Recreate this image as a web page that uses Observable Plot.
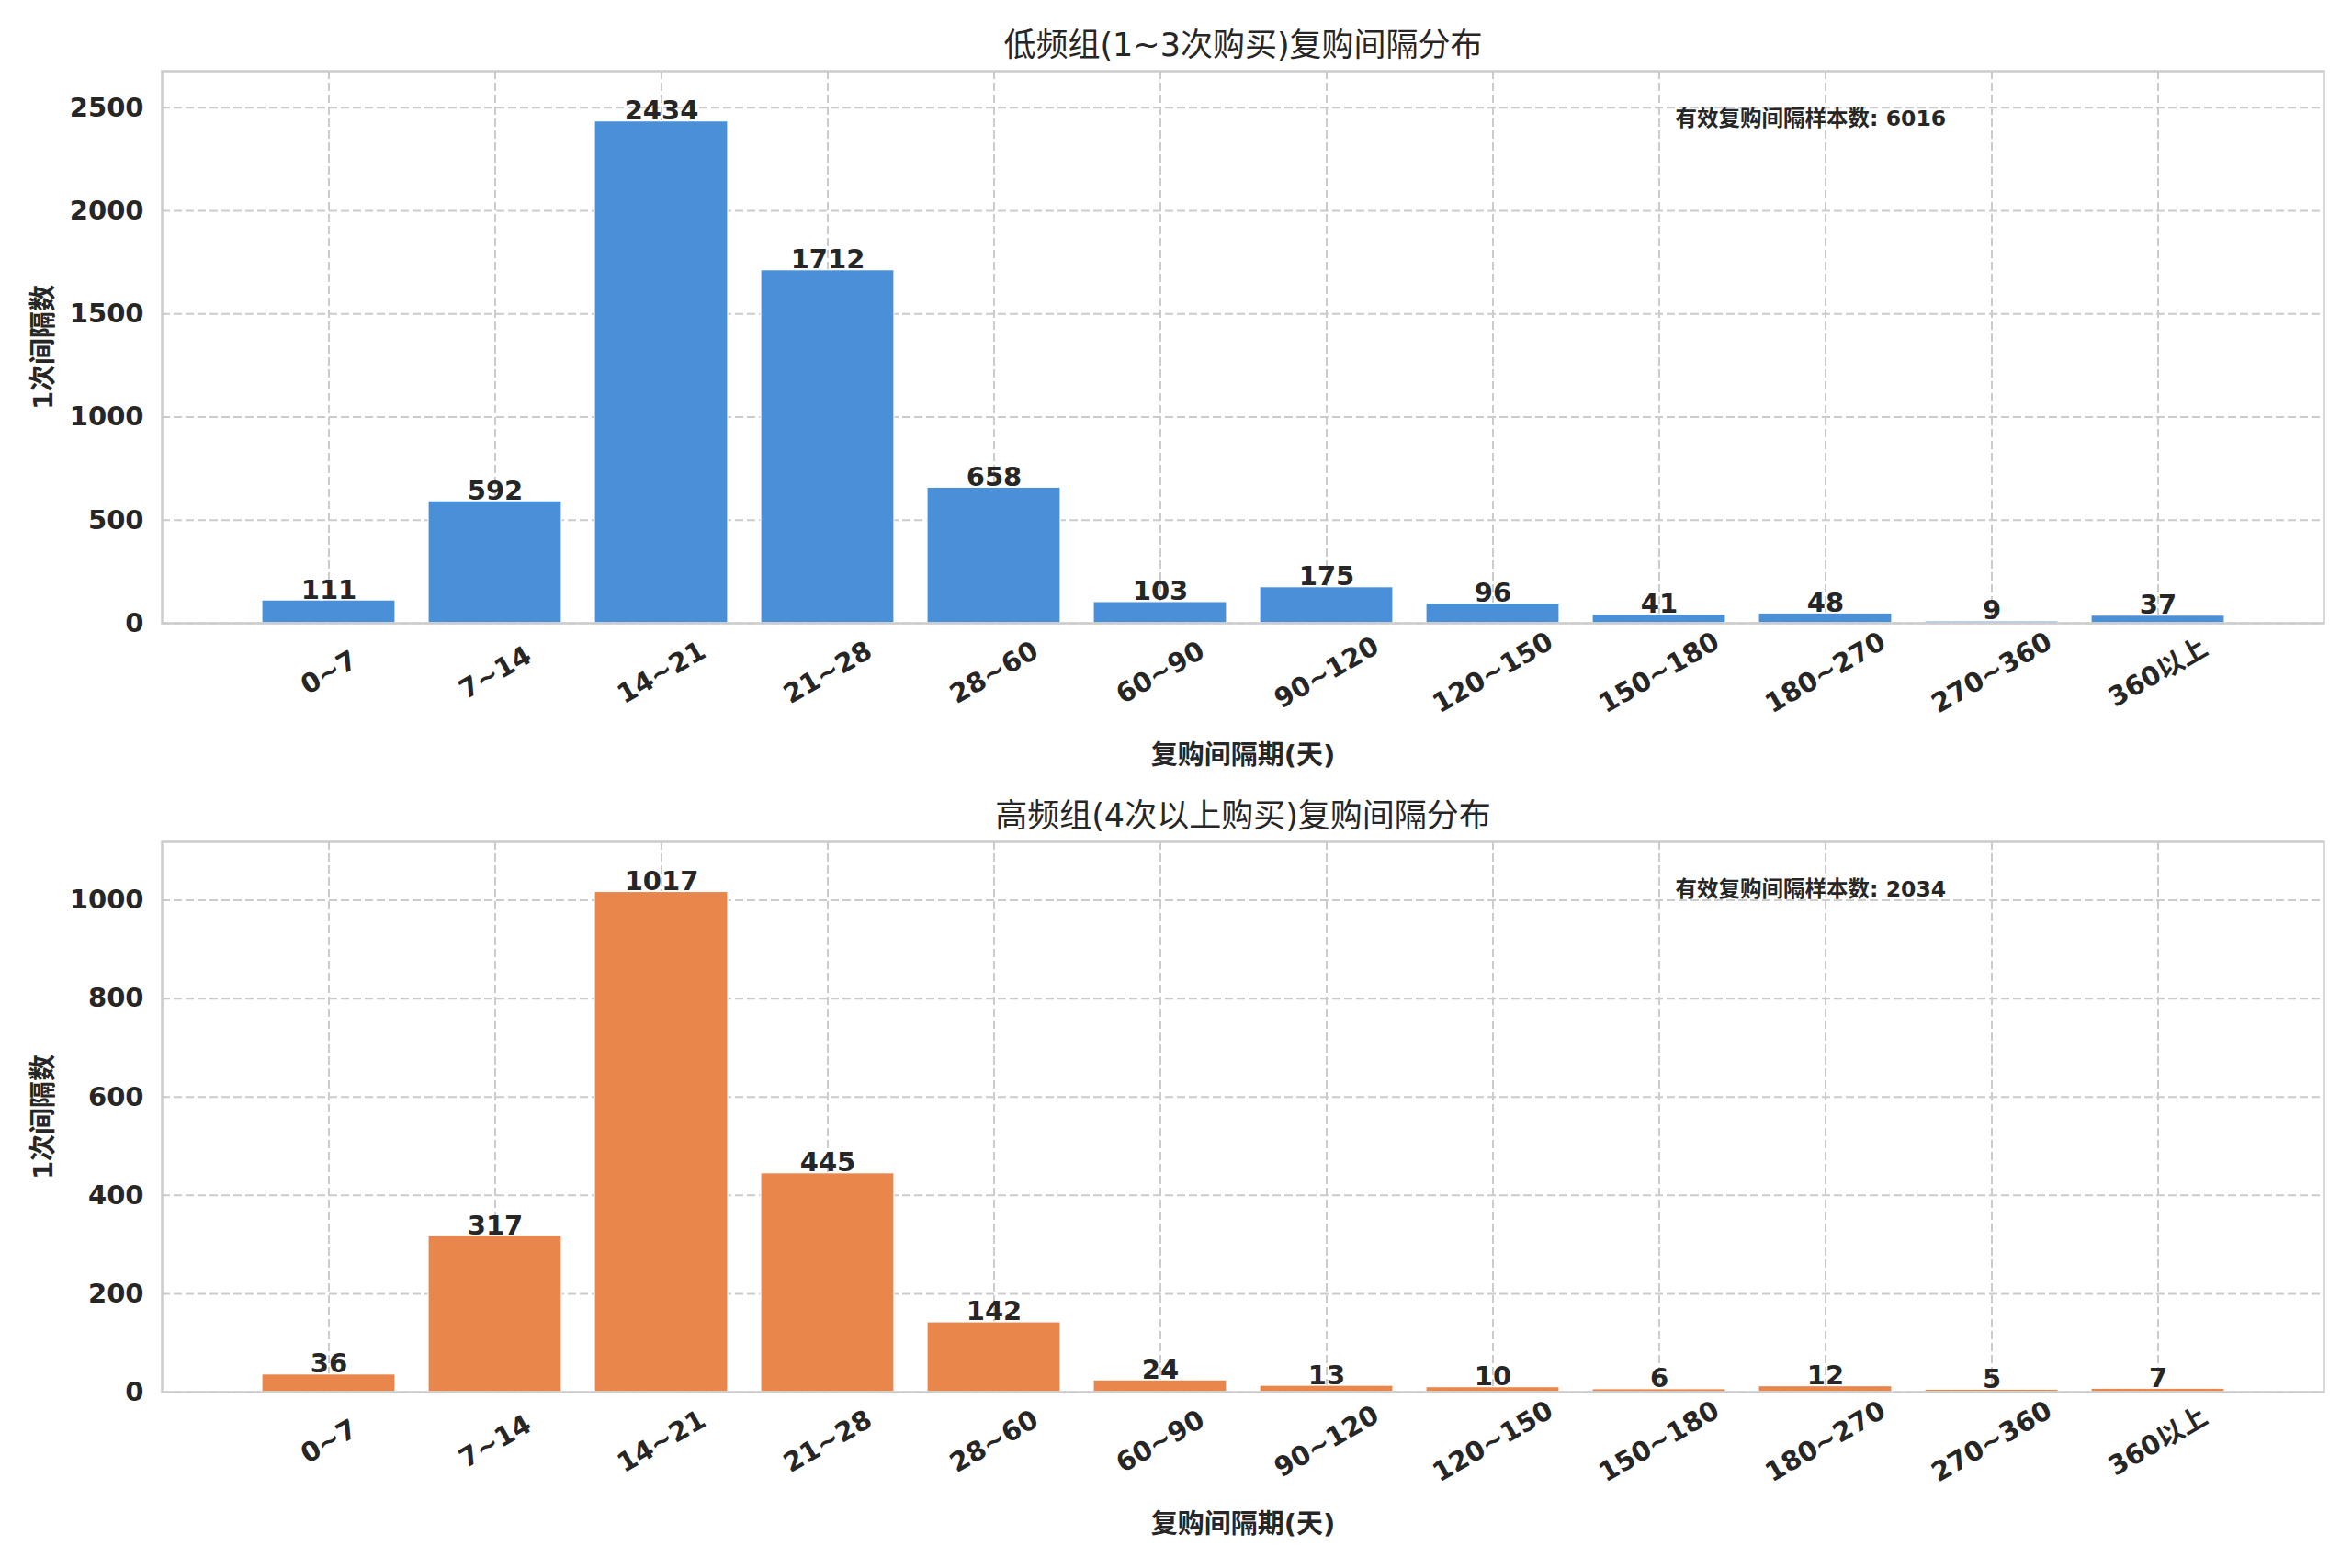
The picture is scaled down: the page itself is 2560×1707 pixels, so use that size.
<!DOCTYPE html>
<html>
<head>
<meta charset="utf-8">
<script src="https://cdn.jsdelivr.net/npm/d3@7"></script>
<script src="https://cdn.jsdelivr.net/npm/@observablehq/plot@0.6"></script>
<style>
  html, body { margin: 0; padding: 0; background: #fff; }
  #chart svg { display: block; }
</style>
</head>
<body>
<div id="chart"></div>
<script>
const categories = ["0~7","7~14","14~21","21~28","28~60","60~90","90~120","120~150","150~180","180~270","270~360","360以上"];
const lowValues = [111, 592, 2434, 1712, 658, 103, 175, 96, 41, 48, 9, 37];
const highValues = [36, 317, 1017, 445, 142, 24, 13, 10, 6, 12, 5, 7];
const lowTicks = [0, 500, 1000, 1500, 2000, 2500];
const highTicks = [0, 200, 400, 600, 800, 1000];
const titles = ["低频组(1~3次购买)复购间隔分布", "高频组(4次以上购买)复购间隔分布"];
const xLabel = "复购间隔期(天)";
const yLabel = "1次间隔数";
const totalLabel = "有效复购间隔样本数";

const FONT = '"DejaVu Sans", "Noto Sans CJK SC", sans-serif';
const TEXT = "#262626";
const W = 2560;
const ML = 176, MR = 2560 - 2529;
const innerW = W - ML - MR;

function panel({values, ticks, color, title, height, marginTop, marginBottom}) {
  const data = categories.map((c, i) => ({cat: c, value: values[i]}));
  const total = d3.sum(values);
  const ymax = d3.max(values) * 1.1;
  return Plot.plot({
    width: W,
    height,
    marginLeft: ML,
    marginRight: MR,
    marginTop,
    marginBottom,
    style: {fontFamily: FONT, background: "#fff", overflow: "visible"},
    x: {domain: categories, paddingInner: 0.2, paddingOuter: 0.59, align: 0.5, axis: null},
    y: {domain: [0, ymax], axis: null},
    marks: [
      Plot.ruleY(ticks, {y: d => d, stroke: "#cccccc", strokeWidth: 2, strokeDasharray: "9,4"}),
      Plot.ruleX(categories, {x: d => d, stroke: "#cccccc", strokeWidth: 2, strokeDasharray: "9,4"}),
      Plot.barY(data, {x: "cat", y: "value", fill: color, stroke: "white", strokeWidth: 1.2}),
      Plot.text(data, {x: "cat", y: "value", text: d => String(d.value), lineAnchor: "bottom", dy: -2,
        fontSize: 29, fontWeight: "bold", fill: TEXT}),
      Plot.frame({stroke: "#cccccc", strokeWidth: 2.5}),
      Plot.axisY(ticks, {tickSize: 0, tickPadding: 20, fontSize: 29, fontWeight: "bold", color: TEXT,
        label: null, tickFormat: d => String(d)}),
      Plot.text(categories, {x: d => d, frameAnchor: "bottom", dy: 54, rotate: -30,
        textAnchor: "middle", lineAnchor: "middle", fontSize: 29, fontWeight: "bold", fill: TEXT}),
      Plot.text([title], {frameAnchor: "top", dy: -28, lineAnchor: "middle", fontSize: 35, fill: TEXT}),
      Plot.text([xLabel], {frameAnchor: "bottom", dy: 144, lineAnchor: "middle", fontSize: 29, fontWeight: "bold", fill: TEXT}),
      Plot.text([yLabel], {frameAnchor: "left", dx: -129, rotate: -90, textAnchor: "middle", lineAnchor: "middle",
        fontSize: 29, fontWeight: "bold", fill: TEXT}),
      Plot.text([`${totalLabel}: ${total}`], {frameAnchor: "top-left", dx: innerW * 0.70, dy: 52,
        textAnchor: "start", lineAnchor: "middle", fontSize: 23.5, fontWeight: "bold", fill: TEXT})
    ]
  });
}

const chart = document.getElementById("chart");
chart.append(panel({values: lowValues, ticks: lowTicks, color: "#4a90d9", title: titles[0],
  height: 853, marginTop: 77, marginBottom: 175}));
chart.append(panel({values: highValues, ticks: highTicks, color: "#e8864c", title: titles[1],
  height: 854, marginTop: 63, marginBottom: 192}));
</script>
</body>
</html>
